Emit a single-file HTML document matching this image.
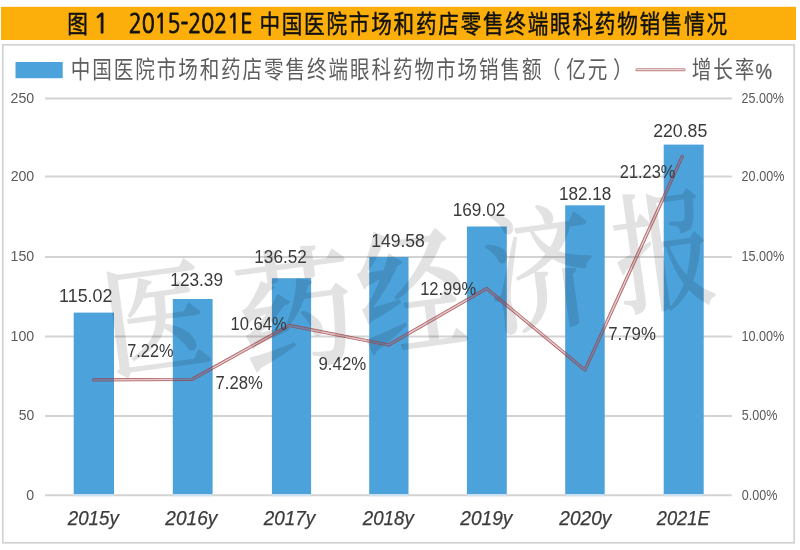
<!DOCTYPE html>
<html lang="zh"><head><meta charset="utf-8"><title>图 1 2015-2021E 中国医院市场和药店零售终端眼科药物销售情况</title>
<style>
html,body{margin:0;padding:0;background:#fff;}
body{width:800px;height:550px;overflow:hidden;}
svg{display:block;}
text{font-family:"Liberation Sans","Noto Sans CJK SC",sans-serif;}
.title{font-weight:400;font-size:20.6px;letter-spacing:1.775px;fill:#111;stroke:#111;stroke-width:0.4px;}
.tl{font-family:"NanumGothic","Liberation Sans",sans-serif;fill:#111;stroke:#111;stroke-width:0.95px;}
.ax{fill:#5a5a5a;}
.cat{font-style:italic;fill:#3a3a3a;stroke:#3a3a3a;stroke-width:0.25px;}
.dl{fill:#3a3a3a;}
.lg{font-size:19.6px;letter-spacing:1.9px;fill:#5e5e5e;}
.lgp{fill:#5e5e5e;stroke:#5e5e5e;stroke-width:0.3px;}
.wm{font-family:"Liberation Serif","Noto Serif CJK SC",serif;font-weight:500;font-size:120px;fill:#000;stroke:#000;stroke-width:1.6px;stroke-linejoin:round;}
</style></head><body>
<svg width="800" height="550" viewBox="0 0 800 550">
<rect x="0" y="0" width="800" height="550" fill="#ffffff"/>
<rect x="1" y="6.8" width="795" height="33.2" fill="#FCAF0A"/>
<g transform="translate(0,33.3) scale(1,1.19)"><text class="title" x="67.2" y="0">图</text>
<text class="title" x="259.4" y="0">中国医院市场和药店零售终端眼科药物销售情况</text></g>
<rect x="2.8" y="44.8" width="791.4" height="498" fill="#fff" stroke="#D2D3D4" stroke-width="1.7"/>

<line x1="45" x2="731.8" y1="495.3" y2="495.3" stroke="#D3D3D3" stroke-width="2"/>
<line x1="45" x2="731.8" y1="416.0" y2="416.0" stroke="#D3D3D3" stroke-width="2"/>
<line x1="45" x2="731.8" y1="336.4" y2="336.4" stroke="#D3D3D3" stroke-width="2"/>
<line x1="45" x2="731.8" y1="257.0" y2="257.0" stroke="#D3D3D3" stroke-width="2"/>
<line x1="45" x2="731.8" y1="176.5" y2="176.5" stroke="#D3D3D3" stroke-width="2"/>
<line x1="45" x2="731.8" y1="98.5" y2="98.5" stroke="#D3D3D3" stroke-width="2"/>
<rect x="73.7" y="312.6" width="40.3" height="181.6" fill="#4CA2DA"/>
<rect x="74.0" y="494.2" width="39.7" height="2.1" fill="#CDE2F1"/>
<rect x="172.8" y="299.0" width="39.8" height="195.2" fill="#4CA2DA"/>
<rect x="173.1" y="494.2" width="39.2" height="2.1" fill="#CDE2F1"/>
<rect x="271.9" y="278.2" width="39.2" height="216.0" fill="#4CA2DA"/>
<rect x="272.2" y="494.2" width="38.6" height="2.1" fill="#CDE2F1"/>
<rect x="369.2" y="257.0" width="39.3" height="237.2" fill="#4CA2DA"/>
<rect x="369.5" y="494.2" width="38.7" height="2.1" fill="#CDE2F1"/>
<rect x="466.9" y="226.5" width="39.9" height="267.7" fill="#4CA2DA"/>
<rect x="467.2" y="494.2" width="39.3" height="2.1" fill="#CDE2F1"/>
<rect x="565.2" y="205.3" width="39.5" height="288.9" fill="#4CA2DA"/>
<rect x="565.5" y="494.2" width="38.9" height="2.1" fill="#CDE2F1"/>
<rect x="663.7" y="144.6" width="40.0" height="349.6" fill="#4CA2DA"/>
<rect x="664.0" y="494.2" width="39.4" height="2.1" fill="#CDE2F1"/>
<g opacity="0.115">
<g transform="translate(156.0,318.1) rotate(-7.7) scale(0.880,1.025)"><text class="wm" x="0" y="45" text-anchor="middle">医</text></g>
<g transform="translate(295.3,308.8) rotate(-7.7) scale(0.991,1.089)"><text class="wm" x="0" y="45" text-anchor="middle">药</text></g>
<g transform="translate(411.0,292.0) rotate(-7.7) scale(0.890,1.161)"><text class="wm" x="0" y="45" text-anchor="middle">经</text></g>
<g transform="translate(540.4,269.1) rotate(-7.7) scale(0.921,1.105)"><text class="wm" x="0" y="45" text-anchor="middle">济</text></g>
<g transform="translate(663.5,250.6) rotate(-7.7) scale(0.829,1.080)"><text class="wm" x="0" y="45" text-anchor="middle">报</text></g>
</g>
<defs><mask id="m" maskUnits="userSpaceOnUse" x="0" y="0" width="800" height="550"><rect width="800" height="550" fill="#000"/><polyline points="93.6,379.9 192.2,379.3 289.3,325.4 388.6,345.0 486.5,288.6 585.0,369.9 682.3,156.4" fill="none" stroke="#fff" stroke-width="3.3" stroke-linecap="round" stroke-linejoin="round"/><polyline points="93.6,379.9 192.2,379.3 289.3,325.4 388.6,345.0 486.5,288.6 585.0,369.9 682.3,156.4" fill="none" stroke="#000" stroke-width="1.5" stroke-linecap="round" stroke-linejoin="round"/></mask></defs>
<polyline points="93.6,379.9 192.2,379.3 289.3,325.4 388.6,345.0 486.5,288.6 585.0,369.9 682.3,156.4" fill="none" stroke="#A8484C" stroke-opacity="0.3" stroke-width="2.6" stroke-linecap="round" stroke-linejoin="round"/>
<rect width="800" height="550" fill="#9C4046" fill-opacity="0.75" mask="url(#m)"/>
<rect x="15.5" y="62" width="47.2" height="16.2" fill="#4CA2DA"/>
<g transform="translate(0,78.2) scale(1,1.19)">
<text class="lg" x="70.7" y="0">中国医院市场和药店零售终端眼科药物市场销售额</text>
<text class="lg" x="541" y="0">（</text><text class="lg" x="566.2" y="0">亿元</text><text class="lg" x="613.1" y="0">）</text>
<text class="lg" x="691.7" y="0">增长率</text>
</g>
<line x1="637" x2="684" y1="69.7" y2="69.7" stroke="#BC8284" stroke-width="3.1" stroke-linecap="round"/><line x1="637" x2="684" y1="69.7" y2="69.7" stroke="#EBD5D5" stroke-width="1.2" stroke-linecap="round"/>
<text class="ax" style="font-size:15.4px" x="26.36" y="499.6" textLength="7.90" lengthAdjust="spacingAndGlyphs">0</text>
<text class="ax" style="font-size:15.4px" x="18.77" y="420.3" textLength="15.48" lengthAdjust="spacingAndGlyphs">50</text>
<text class="ax" style="font-size:15.4px" x="10.61" y="340.7" textLength="23.64" lengthAdjust="spacingAndGlyphs">100</text>
<text class="ax" style="font-size:15.4px" x="10.61" y="261.3" textLength="23.64" lengthAdjust="spacingAndGlyphs">150</text>
<text class="ax" style="font-size:15.4px" x="10.64" y="180.8" textLength="23.62" lengthAdjust="spacingAndGlyphs">200</text>
<text class="ax" style="font-size:15.4px" x="10.53" y="102.8" textLength="23.72" lengthAdjust="spacingAndGlyphs">250</text>
<text class="ax" style="font-size:14px" x="741.81" y="499.7" textLength="35.57" lengthAdjust="spacingAndGlyphs">0.00%</text>
<text class="ax" style="font-size:14px" x="741.81" y="420.4" textLength="35.57" lengthAdjust="spacingAndGlyphs">5.00%</text>
<text class="ax" style="font-size:14px" x="741.41" y="340.8" textLength="42.97" lengthAdjust="spacingAndGlyphs">10.00%</text>
<text class="ax" style="font-size:14px" x="741.41" y="261.4" textLength="42.97" lengthAdjust="spacingAndGlyphs">15.00%</text>
<text class="ax" style="font-size:14px" x="741.61" y="180.9" textLength="42.77" lengthAdjust="spacingAndGlyphs">20.00%</text>
<text class="ax" style="font-size:14px" x="741.61" y="102.9" textLength="42.36" lengthAdjust="spacingAndGlyphs">25.00%</text>
<text class="dl" style="font-size:18.7px" x="59.08" y="301.9" textLength="53.34" lengthAdjust="spacingAndGlyphs">115.02</text>
<text class="dl" style="font-size:18.7px" x="170.32" y="285.7" textLength="52.67" lengthAdjust="spacingAndGlyphs">123.39</text>
<text class="dl" style="font-size:18.7px" x="254.33" y="262.6" textLength="52.47" lengthAdjust="spacingAndGlyphs">136.52</text>
<text class="dl" style="font-size:18.7px" x="371.20" y="246.5" textLength="53.71" lengthAdjust="spacingAndGlyphs">149.58</text>
<text class="dl" style="font-size:18.7px" x="452.72" y="215.7" textLength="52.67" lengthAdjust="spacingAndGlyphs">169.02</text>
<text class="dl" style="font-size:18.7px" x="558.93" y="200.2" textLength="52.36" lengthAdjust="spacingAndGlyphs">182.18</text>
<text class="dl" style="font-size:18.7px" x="653.17" y="136.5" textLength="54.15" lengthAdjust="spacingAndGlyphs">220.85</text>
<text class="dl" style="font-size:18.7px" x="127.24" y="357.3" textLength="46.25" lengthAdjust="spacingAndGlyphs">7.22%</text>
<text class="dl" style="font-size:18.7px" x="215.62" y="389.0" textLength="47.18" lengthAdjust="spacingAndGlyphs">7.28%</text>
<text class="dl" style="font-size:18.7px" x="230.56" y="329.6" textLength="56.23" lengthAdjust="spacingAndGlyphs">10.64%</text>
<text class="dl" style="font-size:18.7px" x="318.51" y="370.2" textLength="47.69" lengthAdjust="spacingAndGlyphs">9.42%</text>
<text class="dl" style="font-size:18.7px" x="420.17" y="295.0" textLength="56.02" lengthAdjust="spacingAndGlyphs">12.99%</text>
<text class="dl" style="font-size:18.7px" x="608.21" y="339.5" textLength="47.69" lengthAdjust="spacingAndGlyphs">7.79%</text>
<text class="dl" style="font-size:18.7px" x="619.83" y="178.4" textLength="55.45" lengthAdjust="spacingAndGlyphs">21.23%</text>
<text class="cat" style="font-size:20px" x="67.79" y="525.0" textLength="51.04" lengthAdjust="spacingAndGlyphs">2015y</text>
<text class="cat" style="font-size:20px" x="165.30" y="525.0" textLength="52.01" lengthAdjust="spacingAndGlyphs">2016y</text>
<text class="cat" style="font-size:20px" x="263.80" y="525.0" textLength="51.52" lengthAdjust="spacingAndGlyphs">2017y</text>
<text class="cat" style="font-size:20px" x="362.79" y="525.0" textLength="51.04" lengthAdjust="spacingAndGlyphs">2018y</text>
<text class="cat" style="font-size:20px" x="460.30" y="525.0" textLength="52.01" lengthAdjust="spacingAndGlyphs">2019y</text>
<text class="cat" style="font-size:20px" x="559.30" y="525.0" textLength="52.01" lengthAdjust="spacingAndGlyphs">2020y</text>
<text class="cat" style="font-size:20px" x="656.79" y="525.0" textLength="52.84" lengthAdjust="spacingAndGlyphs">2021E</text>
<text class="tl" style="font-size:26px" x="93.18" y="33.1" textLength="16.03" lengthAdjust="spacingAndGlyphs">1</text>
<text class="tl" style="font-size:26px" x="128.70" y="33.1" textLength="123.83" lengthAdjust="spacingAndGlyphs">2015-2021E</text>
<text class="lgp" style="font-size:21.5px" x="755.62" y="78.8" textLength="16.54" lengthAdjust="spacingAndGlyphs">%</text>
</svg></body></html>
